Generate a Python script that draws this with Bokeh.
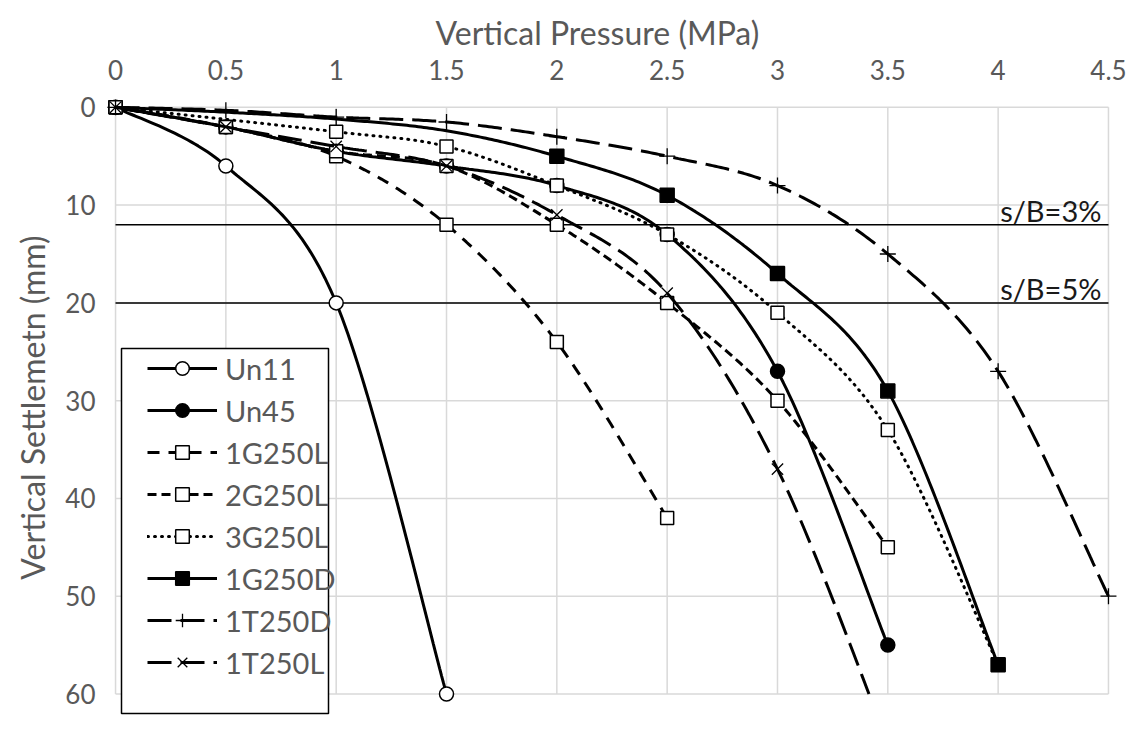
import numpy as np
from bokeh.plotting import figure
from bokeh.models import Range1d, FixedTicker, Label, Legend, LegendItem, BoxAnnotation, Title
from bokeh.embed import file_html
from bokeh.resources import INLINE

# ---------------- data ----------------
x_ticks = [0, 0.5, 1, 1.5, 2, 2.5, 3, 3.5, 4, 4.5]
x_tick_labels = ["0", "0.5", "1", "1.5", "2", "2.5", "3", "3.5", "4", "4.5"]
y_ticks = [0, 10, 20, 30, 40, 50, 60]

un11_x = [0, 0.5, 1, 1.5]
un11_y = [0, 6, 20, 60]

un45_x = [0, 0.5, 1, 1.5, 2, 2.5, 3, 3.5]
un45_y = [0, 2, 4.5, 6, 8, 13, 27, 55]

g1l_x = [0, 0.5, 1, 1.5, 2, 2.5]
g1l_y = [0, 2, 5, 12, 24, 42]

g2l_x = [0, 0.5, 1, 1.5, 2, 2.5, 3, 3.5]
g2l_y = [0, 2, 4.5, 6, 12, 20, 30, 45]

g3l_x = [0, 1, 1.5, 2, 2.5, 3, 3.5, 4]
g3l_y = [0, 2.5, 4, 8, 13, 21, 33, 57]

g1d_x = [0, 0.5, 1, 1.5, 2, 2.5, 3, 3.5, 4]
g1d_y = [0, 0.5, 1.2, 2.4, 5, 9, 17, 29, 57]
g1d_first_marker = 4

t1d_x = [0, 0.5, 1, 1.5, 2, 2.5, 3, 3.5, 4, 4.5]
t1d_y = [0, 0.3, 1, 1.5, 3, 5, 8, 15, 27, 50]

t1l_x = [0, 0.5, 1, 1.5, 2, 2.5, 3, 3.5]
t1l_y = [0, 2, 4, 6, 11, 19, 37, 65]

limit_values = [12, 20]
limit_labels = ["s/B=3%", "s/B=5%"]

x_title = "Vertical Pressure (MPa)"
y_title = "Vertical Settlemetn (mm)"

FONT = "Lato"
GREY = "#595959"
GRID = "#d9d9d9"

X0, X1 = x_ticks[0], x_ticks[-1]
Y0, Y1 = y_ticks[0], y_ticks[-1]


def smooth(xs, ys, n=40):
    P = np.column_stack([xs, ys]).astype(float)
    ext = np.vstack([P[0], P, P[-1]])
    out = []
    t = np.linspace(0, 1, n)[:, None]
    for i in range(len(P) - 1):
        p0, p1, p2, p3 = ext[i], ext[i + 1], ext[i + 2], ext[i + 3]
        c1 = p1 + (p2 - p0) / 6.0
        c2 = p2 - (p3 - p1) / 6.0
        seg = (1 - t) ** 3 * p1 + 3 * (1 - t) ** 2 * t * c1 + 3 * (1 - t) * t ** 2 * c2 + t ** 3 * p2
        out.append(seg if i == 0 else seg[1:])
    s = np.vstack(out)
    sx, sy = s[:, 0], s[:, 1]
    # clip the drawn curve at the bottom of the axis (Y1)
    over = np.nonzero(sy > Y1 + 1e-9)[0]
    if len(over):
        k = over[0]
        f = (Y1 - sy[k - 1]) / (sy[k] - sy[k - 1])
        xe = sx[k - 1] + f * (sx[k] - sx[k - 1])
        sx = np.append(sx[:k], xe)
        sy = np.append(sy[:k], Y1)
    return sx, sy


p = figure(width=1128, height=735,
           x_range=Range1d(-0.05, 4.55), y_range=Range1d(62.2, -0.8),
           x_axis_location="above",
           output_backend="svg", toolbar_location=None,
           min_border_left=101, min_border_right=9,
           min_border_top=99, min_border_bottom=20,
           background_fill_color="white", border_fill_color="white")

p.outline_line_color = None
p.xgrid.visible = False
p.ygrid.visible = False

for ax in (p.xaxis[0], p.yaxis[0]):
    ax.axis_line_color = None
    ax.major_tick_line_color = None
    ax.minor_tick_line_color = None
    ax.major_label_text_font = FONT
    ax.major_label_text_color = GREY
    ax.major_label_text_font_size = "26px"

p.xaxis[0].ticker = FixedTicker(ticks=x_ticks)
p.xaxis[0].major_label_overrides = {t: l for t, l in zip(x_ticks, x_tick_labels)}
p.xaxis[0].major_label_standoff = 14

p.yaxis[0].ticker = FixedTicker(ticks=y_ticks)
p.yaxis[0].major_label_standoff = 3

# axis titles as Titles so they can be shifted along the axis like in the original
p.title.text = x_title
p.title.align = "left"
p.title.offset = 331
p.title.standoff = 9
p.title.text_font = FONT
p.title.text_font_size = "32px"
p.title.text_font_style = "normal"
p.title.text_color = GREY

p.add_layout(Title(text=y_title, align="center", offset=23, standoff=21,
                   text_font=FONT, text_font_size="32px", text_font_style="normal",
                   text_color=GREY), "left")

# gridlines (stop at the axis limits)
p.segment(x0=x_ticks, y0=[Y0] * len(x_ticks), x1=x_ticks, y1=[Y1] * len(x_ticks),
          line_color=GRID, line_width=1.5)
p.segment(x0=[X0] * len(y_ticks), y0=y_ticks, x1=[X1] * len(y_ticks), y1=y_ticks,
          line_color=GRID, line_width=1.5)

# s/B limit lines
p.segment(x0=[X0] * len(limit_values), y0=limit_values, x1=[X1] * len(limit_values), y1=limit_values,
          line_color="black", line_width=1.5)
for v, lab in zip(limit_values, limit_labels):
    p.add_layout(Label(x=X1, y=v, text=lab, text_align="right", text_baseline="alphabetic",
                       x_offset=-7, y_offset=14, text_font=FONT, text_font_size="29px",
                       text_color="#1a1a1a"))

LW = 3
series = [
    ("Un11", un11_x, un11_y, dict(line_dash="solid"), dict(marker="circle", size=14, fill_color="white", line_width=1.5), 0),
    ("Un45", un45_x, un45_y, dict(line_dash="solid"), dict(marker="circle", size=14, fill_color="black", line_width=1.5), 0),
    ("1G250L", g1l_x, g1l_y, dict(line_dash="12 9"), dict(marker="square", size=13, fill_color="white", line_width=1.5), 0),
    ("2G250L", g2l_x, g2l_y, dict(line_dash="9 5"), dict(marker="square", size=13, fill_color="white", line_width=1.5), 0),
    ("3G250L", g3l_x, g3l_y, dict(line_dash="1 6", line_cap="round"), dict(marker="square", size=13, fill_color="white", line_width=1.5), 0),
    ("1G250D", g1d_x, g1d_y, dict(line_dash="solid"), dict(marker="square", size=14, fill_color="black", line_width=1.5), g1d_first_marker),
    ("1T250D", t1d_x, t1d_y, dict(line_dash="24 9"), dict(marker="cross", size=16, fill_color=None, line_width=1.3), 0),
    ("1T250L", t1l_x, t1l_y, dict(line_dash="24 9"), dict(marker="x", size=16, fill_color=None, line_width=1.3), 0),
]

items = []
for name, xs, ys, lkw, mkw, m0 in series:
    sx, sy = smooth(xs, ys)
    lr = p.line(sx, sy, line_color="black", line_width=LW, **lkw)
    sr = p.scatter(xs[m0:], ys[m0:], line_color="black", **mkw)
    items.append(LegendItem(label=name, renderers=[lr, sr]))

# legend frame (screen units, relative to the plot frame)
p.add_layout(BoxAnnotation(left=17, right=224, bottom=2, top=367,
                           left_units="screen", right_units="screen",
                           bottom_units="screen", top_units="screen",
                           fill_color="white", fill_alpha=1.0,
                           line_color="black", line_alpha=1.0, line_width=1.5))

legend = Legend(items=items, location=(43, 32),
                label_text_font=FONT, label_text_font_size="29px", label_text_color=GREY,
                glyph_width=70, glyph_height=34, label_height=42, spacing=0,
                padding=0, margin=0, label_standoff=8,
                border_line_color=None, background_fill_alpha=0.0)
p.add_layout(legend, "center")

open("out.html", "w").write(file_html(p, INLINE))
